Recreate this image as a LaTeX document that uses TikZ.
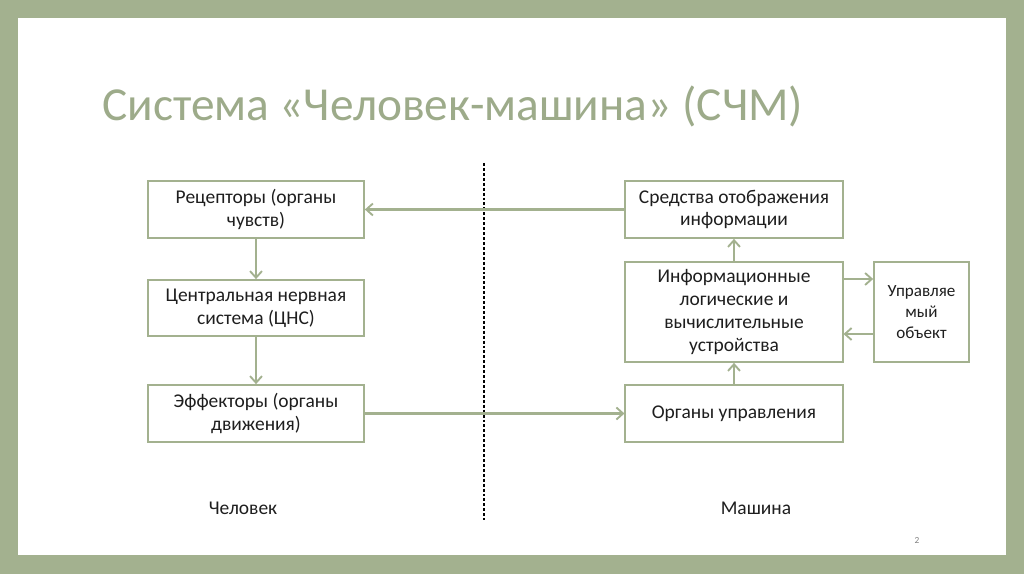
\documentclass[tikz,border=0pt]{standalone}
\usepackage{fontspec}
\setmainfont{Carlito}
\usetikzlibrary{arrows.meta}
\definecolor{frame}{HTML}{A3B18F}
\definecolor{titlec}{HTML}{9DAB8A}
\definecolor{boxc}{HTML}{A3B18F}
\definecolor{txt}{HTML}{1E1E1E}
\tikzset{
  box/.style={draw=boxc, line width=1.3pt, fill=white, align=center, text=txt,
    font=\fontsize{14.6}{17.2}\selectfont, inner sep=2pt},
  arr/.style={draw=boxc, line width=1.6pt, -{Straight Barb[length=5pt,width=9pt,line width=1.4pt]}},
  lbl/.style={text=txt, font=\fontsize{14.6}{17.2}\selectfont}
}
\begin{document}
\begin{tikzpicture}[x=0.75pt,y=-0.75pt]
\useasboundingbox (0,0) rectangle (1024,574);
\fill[frame] (0,0) rectangle (1024,574);
\fill[white] (18,18) rectangle (1006,555);
\node[anchor=west, text=titlec, font=\fontsize{35.5}{42}\selectfont, inner sep=0pt] (title) at (102,106) {Система «Человек-машина» (СЧМ)};
\draw[black, line width=1pt, dash pattern=on 2.2pt off 1.5pt] (484,163) -- (484,520);
\node[box, minimum width=162pt, minimum height=42.75pt] (rec) at (256,209.5) {Рецепторы (органы\\чувств)};
\node[box, minimum width=162pt, minimum height=42pt] (cns) at (256,308) {Центральная нервная\\система (ЦНС)};
\node[box, minimum width=162pt, minimum height=42.75pt] (eff) at (256,413.5) {Эффекторы (органы\\движения)};
\node[box, minimum width=163pt, minimum height=42.75pt] (sred) at (734,209.5) {Средства отображения\\информации};
\node[box, minimum width=163pt, minimum height=75pt] (info) at (734,312) {Информационные\\логические и\\вычислительные\\устройства};
\node[box, minimum width=71.25pt, minimum height=75pt, font=\fontsize{12.8}{15.8}\selectfont] (upr) at (921.5,312) {Управляе\\мый\\объект};
\node[box, minimum width=163pt, minimum height=42.75pt] (org) at (734,413.5) {Органы управления};
\node[lbl] (man) at (243,508) {Человек};
\node[lbl] (mach) at (756,508) {Машина};
\node[text=gray, font=\fontsize{7}{8}\selectfont] (pg) at (917,540) {2};
\draw[arr] (sred.west) -- (rec.east);
\draw[arr] (rec.south) -- (cns.north);
\draw[arr] (cns.south) -- (eff.north);
\draw[arr] (eff.east) -- (org.west);
\draw[arr] (org.north) -- (info.south);
\draw[arr] (info.north) -- (sred.south);
\draw[arr] (info.east |- 0,279) -- (upr.west |- 0,279);
\draw[arr] (upr.west |- 0,334) -- (info.east |- 0,334);
\end{tikzpicture}
\end{document}
